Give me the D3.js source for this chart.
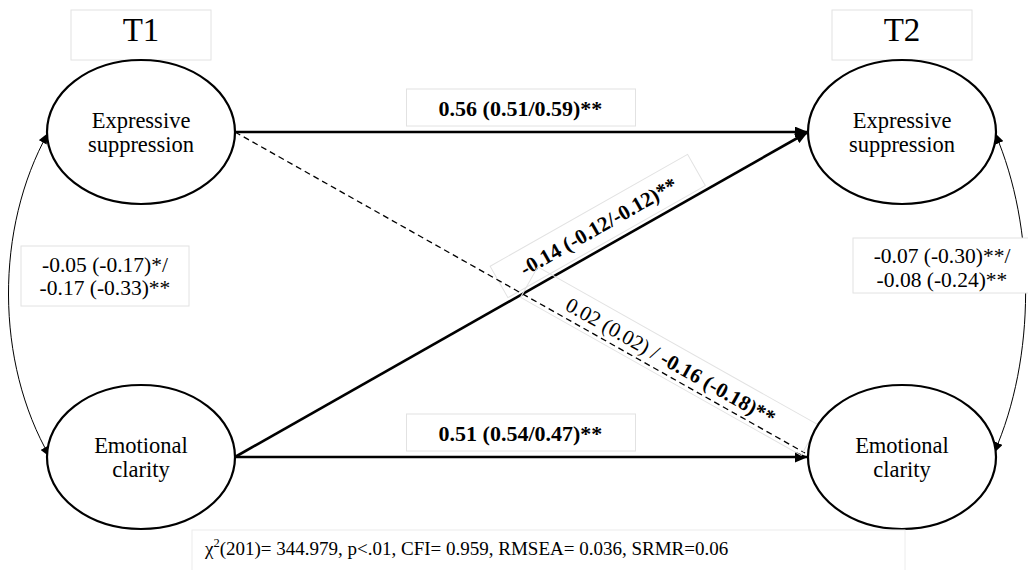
<!DOCTYPE html>
<html>
<head>
<meta charset="utf-8">
<script src="https://cdn.jsdelivr.net/npm/d3@7"></script>
<style>
  body { margin: 0; background: white; }
  text { font-family: "Liberation Serif", "Times New Roman", serif; fill: black; }
</style>
</head>
<body>
<div id="container"></div>
<script>
let w = 1028;
let h = 570;

// DATA
let times = ["T1", "T2"];
let constructs = ["ES", "EC"];
let constructLines = [["Expressive", "suppression"], ["Emotional", "clarity"]];
let stabilityLabels = ["0.56 (0.51/0.59)**", "0.51 (0.54/0.47)**"];
let crossEcToEs = "-0.14 (-0.12/-0.12)**";
let crossEsToEc = ["0.02 (0.02) / ", "-0.16 (-0.18)**"];
let covT1 = ["-0.05 (-0.17)*/", "-0.17 (-0.33)**"];
let covT2 = ["-0.07 (-0.30)**/", "-0.08 (-0.24)**"];
let fitText = "(201)= 344.979, p<.01, CFI= 0.959, RMSEA= 0.036, SRMR=0.06";

let boxStroke = "#e2e2e2";

// SVG
let viz = d3.select("#container").append("svg")
    .attr("width", w)
    .attr("height", h)
    .style("display", "block")
;

// markers
let defs = viz.append("defs");
defs.append("marker")
    .attr("id", "arrow")
    .attr("viewBox", "0 0 12 10")
    .attr("refX", 12).attr("refY", 5)
    .attr("markerWidth", 13).attr("markerHeight", 11)
    .attr("markerUnits", "userSpaceOnUse")
    .attr("orient", "auto-start-reverse")
  .append("path").attr("d", "M0,0 L12,5 L0,10 Z").attr("fill", "black");
defs.append("marker")
    .attr("id", "arrowSmall")
    .attr("viewBox", "0 0 12 10")
    .attr("refX", 12).attr("refY", 5)
    .attr("markerWidth", 11).attr("markerHeight", 9)
    .attr("markerUnits", "userSpaceOnUse")
    .attr("orient", "auto-start-reverse")
  .append("path").attr("d", "M0,0 L12,5 L0,10 Z").attr("fill", "black");

// SCALES
let xScale = d3.scalePoint().domain(times).range([141, 902]);
let yScale = d3.scalePoint().domain(constructs).range([132, 457]);
let rx = 94, ry = 72;

function node(t, c){
  return {x: xScale(t), y: yScale(c)};
}
function rightOf(t, c){ let n = node(t, c); return [n.x + rx, n.y]; }
function leftOf(t, c){ let n = node(t, c); return [n.x - rx, n.y]; }

// title boxes
let titles = viz.selectAll(".title").data(times).enter().append("g")
    .attr("class", "title")
    .attr("transform", function(d){ return "translate(" + xScale(d) + ",0)"; });
titles.append("rect")
    .attr("x", -70).attr("y", 10).attr("width", 140).attr("height", 50)
    .attr("fill", "none").attr("stroke", boxStroke);
titles.append("text")
    .attr("y", 41).attr("text-anchor", "middle")
    .style("font-size", "33px")
    .text(function(d){ return d; });

// stability paths (horizontal)
constructs.forEach(function(c, i){
  let a = rightOf("T1", c), b = leftOf("T2", c);
  viz.append("line")
      .attr("x1", a[0]).attr("y1", a[1]).attr("x2", b[0]).attr("y2", b[1])
      .attr("stroke", "black").attr("stroke-width", 2.6)
      .attr("marker-end", "url(#arrow)");
  let mx = (a[0] + b[0]) / 2 - 1;
  viz.append("rect")
      .attr("x", mx - 114).attr("y", a[1] - 43).attr("width", 229).attr("height", 37)
      .attr("fill", "none").attr("stroke", boxStroke);
  viz.append("text")
      .attr("x", mx).attr("y", a[1] - 16)
      .attr("text-anchor", "middle")
      .style("font-size", "22px").style("font-weight", "bold")
      .text(stabilityLabels[i]);
});

// cross-lagged EC -> ES (solid)
let p0 = rightOf("T1", "EC"), p1 = leftOf("T2", "ES");
viz.append("line")
    .attr("x1", p0[0]).attr("y1", p0[1]).attr("x2", p1[0]).attr("y2", p1[1])
    .attr("stroke", "black").attr("stroke-width", 2.6)
    .attr("marker-end", "url(#arrow)");
let ang1 = Math.atan2(p1[1] - p0[1], p1[0] - p0[0]) * 180 / Math.PI;
let g1 = viz.append("g")
    .attr("transform", "translate(" + p0[0] + "," + p0[1] + ") rotate(" + ang1 + ")");
g1.append("rect")
    .attr("x", 316).attr("y", -40).attr("width", 227).attr("height", 36)
    .attr("fill", "none").attr("stroke", boxStroke);
g1.append("text")
    .attr("x", 430).attr("y", -14)
    .attr("text-anchor", "middle")
    .style("font-size", "21px").style("font-weight", "bold")
    .text(crossEcToEs);

// cross-lagged ES -> EC (dashed)
let q0 = rightOf("T1", "ES"), q1 = [leftOf("T2", "EC")[0] - 3, leftOf("T2", "EC")[1] - 4];
viz.append("line")
    .attr("x1", q0[0]).attr("y1", q0[1]).attr("x2", q1[0]).attr("y2", q1[1])
    .attr("stroke", "black").attr("stroke-width", 1.3)
    .attr("stroke-dasharray", "6,4");
let ang2 = Math.atan2(q1[1] - q0[1], q1[0] - q0[0]) * 180 / Math.PI;
let g2 = viz.append("g")
    .attr("transform", "translate(" + q0[0] + "," + q0[1] + ") rotate(" + ang2 + ")");
g2.append("rect")
    .attr("x", 330).attr("y", -31).attr("width", 322).attr("height", 35)
    .attr("fill", "none").attr("stroke", boxStroke);
let t2 = g2.append("text")
    .attr("x", 492).attr("y", -7)
    .attr("text-anchor", "middle")
    .style("font-size", "21px");
t2.append("tspan").text(crossEsToEc[0]);
t2.append("tspan").style("font-weight", "bold").text(crossEsToEc[1]);

// covariance curves
function covPath(a, b, bulge){
  return "M" + a[0] + "," + a[1] +
    " C" + bulge + "," + (a[1] + 95) + " " + bulge + "," + (b[1] - 95) + " " + b[0] + "," + b[1];
}
let l1 = leftOf("T1", "ES"), l2 = leftOf("T1", "EC");
viz.append("path")
    .attr("d", covPath([l1[0] + 1, l1[1] + 1], [l2[0] + 3, l2[1]], -5))
    .attr("fill", "none").attr("stroke", "black").attr("stroke-width", 1)
    .attr("marker-start", "url(#arrowSmall)").attr("marker-end", "url(#arrowSmall)");
let r1 = rightOf("T2", "ES"), r2 = rightOf("T2", "EC");
viz.append("path")
    .attr("d", covPath([r1[0] - 1, r1[1] + 1], [r2[0] - 2, r2[1] - 4], 1036))
    .attr("fill", "none").attr("stroke", "black").attr("stroke-width", 1)
    .attr("marker-start", "url(#arrowSmall)").attr("marker-end", "url(#arrowSmall)");

// covariance labels
viz.append("rect")
    .attr("x", 21).attr("y", 246).attr("width", 168).attr("height", 60)
    .attr("fill", "white").attr("stroke", boxStroke);
viz.selectAll(".covT1").data(covT1).enter().append("text")
    .attr("class", "covT1")
    .attr("x", 105).attr("y", function(d, i){ return 272 + i * 23; })
    .attr("text-anchor", "middle")
    .style("font-size", "21.5px")
    .text(function(d){ return d; });

viz.append("rect")
    .attr("x", 853).attr("y", 238).attr("width", 200).attr("height", 55)
    .attr("fill", "white").attr("stroke", boxStroke);
viz.selectAll(".covT2").data(covT2).enter().append("text")
    .attr("class", "covT2")
    .attr("x", 942).attr("y", function(d, i){ return 263 + i * 24; })
    .attr("text-anchor", "middle")
    .style("font-size", "21.5px")
    .text(function(d){ return d; });

// ellipses
let nodes = [];
times.forEach(function(t){
  constructs.forEach(function(c, j){
    nodes.push({t: t, c: c, lines: constructLines[j]});
  });
});
let ng = viz.selectAll(".node").data(nodes).enter().append("g")
    .attr("class", "node")
    .attr("transform", function(d){ return "translate(" + xScale(d.t) + "," + yScale(d.c) + ")"; });
ng.append("ellipse")
    .attr("rx", rx).attr("ry", ry)
    .attr("fill", "white").attr("stroke", "black").attr("stroke-width", 2.2);
ng.each(function(d){
  d3.select(this).selectAll("text").data(d.lines).enter().append("text")
      .attr("y", function(s, i){ return -4 + i * 24; })
      .attr("text-anchor", "middle")
      .style("font-size", "22.5px")
      .text(function(s){ return s; });
});

// fit statistics
viz.append("rect")
    .attr("x", 192).attr("y", 530).attr("width", 713).attr("height", 60)
    .attr("fill", "none").attr("stroke", "#ececec");
let fit = viz.append("text")
    .attr("x", 205).attr("y", 555)
    .style("font-size", "19px");
fit.append("tspan").text("χ");
fit.append("tspan").attr("dy", -8).style("font-size", "12.5px").text("2");
fit.append("tspan").attr("dy", 8).text(fitText);
</script>
</body>
</html>
